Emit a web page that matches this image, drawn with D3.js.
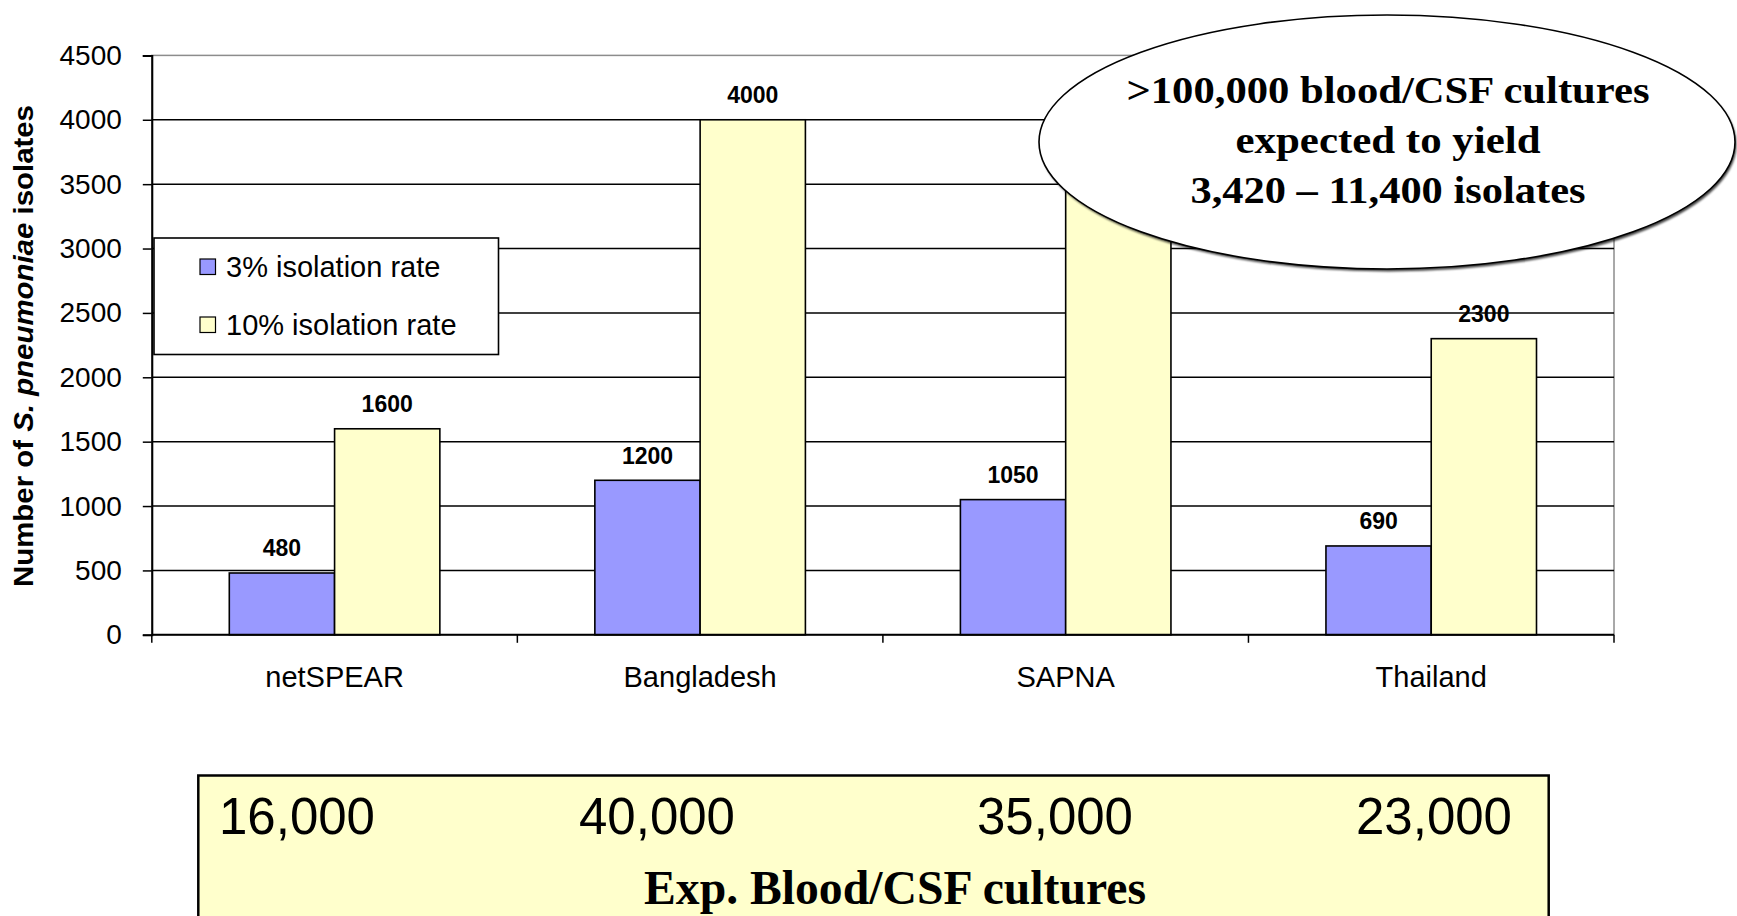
<!DOCTYPE html>
<html>
<head>
<meta charset="utf-8">
<script src="https://cdn.jsdelivr.net/npm/d3@7"></script>
<style>
  html, body { margin: 0; padding: 0; background: #ffffff; }
  svg { display: block; }
  text { font-family: Arial, "Liberation Sans", sans-serif; }
  .serif { font-family: "Times New Roman", "Liberation Serif", serif; font-weight: bold; }
</style>
</head>
<body>
<svg id="chart" width="1737" height="916"></svg>
<script>
// Expected isolates per surveillance site at two isolation rates
const categories = ["netSPEAR", "Bangladesh", "SAPNA", "Thailand"];
const seriesNames = ["3% isolation rate", "10% isolation rate"];
const isolates3 = [480, 1200, 1050, 690];
const isolates10 = [1600, 4000, 3500, 2300];
const yTicks = [0, 500, 1000, 1500, 2000, 2500, 3000, 3500, 4000, 4500];
const culturesLabels = ["16,000", "40,000", "35,000", "23,000"];
const calloutLines = [">100,000 blood/CSF cultures", "expected to yield", "3,420 \u2013 11,400 isolates"];
const tableTitle = "Exp. Blood/CSF cultures";

const seriesColors = ["#9999ff", "#ffffcc"];

const svg = d3.select("#chart");

// plot frame
const plot = { left: 151.8, right: 1614, top: 55.4, bottom: 634.8 };

const y = d3.scaleLinear().domain([0, 4500]).range([plot.bottom, plot.top]);
const x0 = d3.scaleBand().domain(categories).range([plot.left, plot.right]).padding(0);
const groupPad = 77.5;
const x1 = d3.scaleBand().domain(seriesNames)
  .range([groupPad, x0.bandwidth() - groupPad]).padding(0);

// stretch a text element to a given rendered width
function fit(sel, w) {
  sel.attr("textLength", w).attr("lengthAdjust", "spacingAndGlyphs");
  return sel;
}

// outer plot border (grey)
svg.append("rect")
  .attr("x", plot.left).attr("y", plot.top)
  .attr("width", plot.right - plot.left).attr("height", plot.bottom - plot.top)
  .attr("fill", "none").attr("stroke", "#8c8c8c").attr("stroke-width", 1.5);

// horizontal gridlines
svg.append("g").selectAll("line")
  .data(yTicks.filter(v => v > 0 && v < 4500))
  .join("line")
  .attr("x1", plot.left).attr("x2", plot.right)
  .attr("y1", d => y(d)).attr("y2", d => y(d))
  .attr("stroke", "#000").attr("stroke-width", 1.5);

// y axis
const yAxis = svg.append("g")
  .attr("transform", `translate(${plot.left},0)`)
  .call(d3.axisLeft(y).tickValues(yTicks).tickSize(9).tickPadding(21).tickFormat(d3.format("d")));
yAxis.select(".domain").attr("stroke", "#000").attr("stroke-width", 2);
yAxis.selectAll(".tick line").attr("stroke", "#000").attr("stroke-width", 1.5);
yAxis.selectAll(".tick text")
  .attr("font-size", 28).attr("fill", "#000")
  .style("font-family", "Arial, 'Liberation Sans', sans-serif");

// bars
const rows = categories.map((c, i) => ({ cat: c, vals: [isolates3[i], isolates10[i]] }));
const groups = svg.append("g").selectAll("g")
  .data(rows).join("g")
  .attr("transform", d => `translate(${x0(d.cat)},0)`);

groups.selectAll("rect")
  .data(d => d.vals.map((v, k) => ({ name: seriesNames[k], v, k })))
  .join("rect")
  .attr("x", d => x1(d.name))
  .attr("y", d => y(d.v))
  .attr("width", x1.bandwidth())
  .attr("height", d => y(0) - y(d.v))
  .attr("fill", d => seriesColors[d.k])
  .attr("stroke", "#000").attr("stroke-width", 1.6);

groups.selectAll("text")
  .data(d => d.vals.map((v, k) => ({ name: seriesNames[k], v, k })))
  .join("text")
  .attr("x", d => x1(d.name) + x1.bandwidth() / 2)
  .attr("y", d => y(d.v) - 16.5)
  .attr("text-anchor", "middle")
  .attr("font-size", 23).attr("font-weight", "bold").attr("fill", "#000")
  .text(d => d.v);

// x axis line and category boundary ticks
svg.append("line")
  .attr("x1", plot.left).attr("x2", plot.right)
  .attr("y1", plot.bottom).attr("y2", plot.bottom)
  .attr("stroke", "#000").attr("stroke-width", 2);
const bounds = categories.map(c => x0(c)).concat([plot.right]);
svg.append("g").selectAll("line")
  .data(bounds).join("line")
  .attr("x1", d => d).attr("x2", d => d)
  .attr("y1", plot.bottom).attr("y2", plot.bottom + 8)
  .attr("stroke", "#000").attr("stroke-width", 1.5);

svg.append("g").selectAll("text")
  .data(categories).join("text")
  .attr("x", d => x0(d) + x0.bandwidth() / 2)
  .attr("y", 686.7)
  .attr("text-anchor", "middle")
  .attr("font-size", 29).attr("fill", "#000")
  .text(d => d);

// y axis title
const yTitle = svg.append("text")
  .attr("transform", "translate(33,346) rotate(-90)")
  .attr("text-anchor", "middle")
  .attr("font-size", 27).attr("font-weight", "bold").attr("fill", "#000");
yTitle.append("tspan").text("Number of ");
yTitle.append("tspan").attr("font-style", "italic").text("S. pneumoniae");
yTitle.append("tspan").text(" isolates");
fit(yTitle, 482);

// legend
const legend = svg.append("g").attr("transform", "translate(154,238)");
legend.append("rect")
  .attr("width", 344.5).attr("height", 116.5)
  .attr("fill", "#fff").attr("stroke", "#000").attr("stroke-width", 1.6);
const items = legend.selectAll("g.item")
  .data(seriesNames).join("g").attr("class", "item")
  .attr("transform", (d, i) => `translate(46,${21 + i * 58})`);
items.append("rect")
  .attr("width", 15.5).attr("height", 15.5)
  .attr("fill", (d, i) => seriesColors[i])
  .attr("stroke", "#000").attr("stroke-width", 1.2);
items.append("text")
  .attr("x", 26).attr("y", 17.5)
  .attr("font-size", 29).attr("fill", "#000")
  .text(d => d);

// callout ellipse with soft shadow
const defs = svg.append("defs");
defs.append("filter").attr("id", "soft")
  .append("feGaussianBlur").attr("stdDeviation", 1.2);
const ell = { cx: 1387, cy: 142, rx: 348, ry: 127 };
svg.append("ellipse")
  .attr("cx", ell.cx + 1.5).attr("cy", ell.cy + 2.5)
  .attr("rx", ell.rx).attr("ry", ell.ry)
  .attr("fill", "#000").attr("opacity", 0.75).attr("filter", "url(#soft)");
svg.append("ellipse")
  .attr("cx", ell.cx).attr("cy", ell.cy)
  .attr("rx", ell.rx).attr("ry", ell.ry)
  .attr("fill", "#fff").attr("stroke", "#000").attr("stroke-width", 1.6);
const calloutWidths = [523, 305, 395];
calloutLines.forEach((t, i) => {
  fit(svg.append("text")
    .attr("class", "serif")
    .attr("x", 1388).attr("y", 103 + i * 50)
    .attr("text-anchor", "middle")
    .attr("font-size", 38).attr("fill", "#000")
    .text(t), calloutWidths[i]);
});

// expected cultures table
svg.append("rect")
  .attr("x", 198.3).attr("y", 775.5)
  .attr("width", 1350.4).attr("height", 160)
  .attr("fill", "#ffffcc").attr("stroke", "#000").attr("stroke-width", 2.5);
const culturesX = [219, 579, 977, 1356];
svg.append("g").selectAll("text")
  .data(culturesLabels).join("text")
  .attr("x", (d, i) => culturesX[i]).attr("y", 834)
  .attr("font-size", 51).attr("fill", "#000")
  .text(d => d);
fit(svg.append("text")
  .attr("class", "serif")
  .attr("x", 895).attr("y", 904)
  .attr("text-anchor", "middle")
  .attr("font-size", 48).attr("fill", "#000")
  .text(tableTitle), 502);
</script>
</body>
</html>
